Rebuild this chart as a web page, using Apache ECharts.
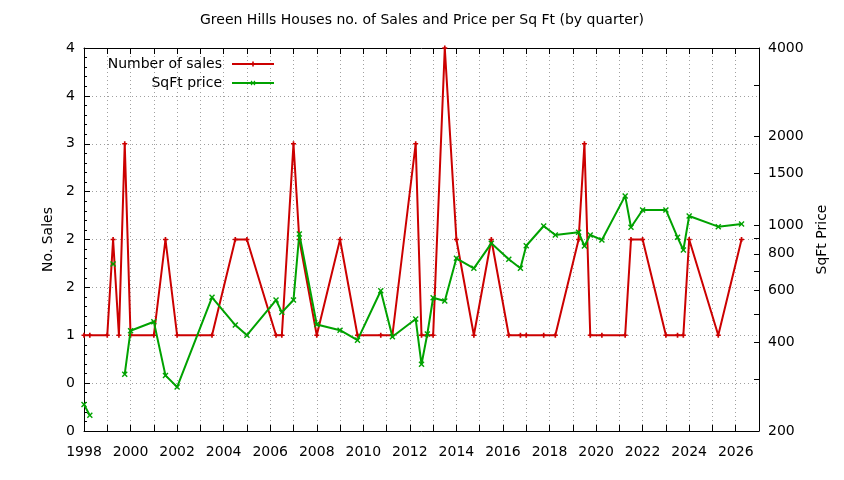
<!DOCTYPE html>
<html>
<head>
<meta charset="utf-8">
<script src="https://cdn.jsdelivr.net/npm/echarts@6/dist/echarts.min.js"></script>
<style>
html,body{margin:0;padding:0;background:#fff;}
#chart{width:844px;height:480px;}
</style>
</head>
<body>
<div id="chart"></div>
<script>
// ---- data ----
const quarters = [1998.0, 1998.25, 1999.0, 1999.25, 1999.5, 1999.75, 2000.0, 2001.0, 2001.5, 2002.0,
  2003.5, 2004.5, 2005.0, 2006.25, 2006.5, 2007.0, 2007.25, 2008.0, 2009.0, 2009.75,
  2010.75, 2011.25, 2012.25, 2012.5, 2012.75, 2013.0, 2013.5, 2014.0, 2014.75, 2015.5,
  2016.25, 2016.75, 2017.0, 2017.75, 2018.25, 2019.25, 2019.5, 2019.75, 2020.25, 2021.25,
  2021.5, 2022.0, 2023.0, 2023.5, 2023.75, 2024.0, 2025.25, 2026.25];
const salesCount = [1, 1, 1, 2, 1, 3, 1, 1, 2, 1,
  1, 2, 2, 1, 1, 3, 2, 1, 2, 1,
  1, 1, 3, 1, 1, 1, 4, 2, 1, 2,
  1, 1, 1, 1, 1, 2, 3, 1, 1, 1,
  2, 2, 1, 1, 1, 2, 1, 2];
const sqftPrice = [246, 226, null, 738, null, 312, 438, 470, 309, 282,
  569, 458, 423, 557, 506, 557, 934, 460, 440, 407,
  599, 418, 480, 337, 427, 567, 553, 772, 714, 868,
  766, 714, 852, 994, 927, 946, 850, 927, 891, 1258,
  984, 1127, 1127, 910, 824, 1075, 989, 1010];
const yearLabels = ['1998','2000','2002','2004','2006','2008','2010','2012','2014','2016','2018','2020','2022','2024','2026'];
const salesTickLabels = ['0','0','1','2','2','2','3','4','4']; // ticks 0,0.5,...,4
const priceTicks = [200,300,400,500,600,700,800,900,1000,1500,2000,3000,4000];
const priceLabels = [200,400,600,800,1000,1500,2000,4000];

const FONT = 'DejaVu Sans';
const FS = 14;
const salesData = quarters.map((q,i) => [q, salesCount[i]]);
const priceData = quarters.map((q,i) => [q, sqftPrice[i] == null ? '-' : sqftPrice[i]]);

const RED = '#cc0000', GREEN = '#00a200';
const plusPath = 'path://M2,0H4V2H6V4H4V6H2V4H0V2H2Z';
const crossPath = 'path://M0,1L1,0L3,2L5,0L6,1L4,3L6,5L5,6L3,4L1,6L0,5L2,3Z';
const gridLine = {show:true, lineStyle:{color:'#a0a0a0', width:1, type:[1,3]}};

const chart = echarts.init(document.getElementById('chart'), null, {renderer:'canvas'});
chart.setOption({
  animation:false,
  backgroundColor:'#fff',
  textStyle:{fontFamily:FONT},
  title:{text:'Green Hills Houses no. of Sales and Price per Sq Ft (by quarter)', left:'center', top:8,
    textStyle:{fontFamily:FONT, fontSize:FS, fontWeight:'normal', color:'#000'}},
  legend:[
    {data:['Number of sales'], right:569, top:57, align:'right', itemWidth:42, itemHeight:6, padding:0,
      textStyle:{fontFamily:FONT, fontSize:FS, color:'#000', padding:[0,5,0,0]}},
    {data:['SqFt price'], right:569, top:76, align:'right', itemWidth:42, itemHeight:6, padding:0,
      textStyle:{fontFamily:FONT, fontSize:FS, color:'#000', padding:[0,5,0,0]}}
  ],
  grid:{left:84, right:85, top:48, bottom:49, containLabel:false},
  xAxis:[
    {type:'value', min:1998, max:2027, interval:1, position:'bottom',
      axisLine:{show:true, lineStyle:{color:'#000', width:1}},
      axisTick:{show:true, inside:true, length:6, lineStyle:{color:'#000'}},
      axisLabel:{margin:14, fontFamily:FONT, fontSize:FS, color:'#000',
        formatter:v => yearLabels.indexOf(String(Math.round(v))) >= 0 && Math.abs(v-Math.round(v))<1e-6 ? String(Math.round(v)) : ''},
      splitLine:gridLine},
    {type:'value', min:1998, max:2027, interval:1, position:'top',
      axisLine:{show:true, lineStyle:{color:'#000', width:1}},
      axisTick:{show:true, inside:true, length:6, lineStyle:{color:'#000'}},
      axisLabel:{show:false}, splitLine:{show:false}}
  ],
  yAxis:[
    {type:'value', min:0, max:4, interval:0.5, position:'left',
      name:'No. Sales', nameLocation:'middle', nameRotate:90, nameGap:24,
      nameTextStyle:{fontFamily:FONT, fontSize:FS, color:'#000'},
      axisLine:{show:true, lineStyle:{color:'#000', width:1}},
      axisTick:{show:true, inside:true, length:6, lineStyle:{color:'#000'}},
      minorTick:{show:true, splitNumber:5, length:3, lineStyle:{color:'#000'}},
      axisLabel:{margin:9, fontFamily:FONT, fontSize:FS, color:'#000',
        formatter:v => salesTickLabels[Math.round(v/0.5)] ?? ''},
      splitLine:gridLine},
    {type:'log', logBase:10, min:200, max:4000, position:'right',
      name:'SqFt Price', nameLocation:'middle', nameRotate:90, nameGap:56,
      nameTextStyle:{fontFamily:FONT, fontSize:FS, color:'#000'},
      axisLine:{show:true, lineStyle:{color:'#000', width:1}},
      axisTick:{show:true, inside:true, length:5, lineStyle:{color:'#000'}, customValues:priceTicks},
      axisLabel:{margin:9, fontFamily:FONT, fontSize:FS, color:'#000', customValues:priceLabels,
        formatter:v => String(Math.round(v))},
      splitLine:{show:false}, minorTick:{show:false}}
  ],
  series:[
    {name:'Number of sales', type:'line', xAxisIndex:0, yAxisIndex:0, data:salesData,
      symbol:plusPath, symbolSize:5, showSymbol:true, showAllSymbol:true,
      lineStyle:{color:RED, width:2}, itemStyle:{color:RED}, z:2},
    {name:'SqFt price', type:'line', xAxisIndex:0, yAxisIndex:1, data:priceData, connectNulls:false,
      symbol:crossPath, symbolSize:6, showSymbol:true, showAllSymbol:true,
      lineStyle:{color:GREEN, width:2}, itemStyle:{color:GREEN}, z:3}
  ]
});
</script>
</body>
</html>
